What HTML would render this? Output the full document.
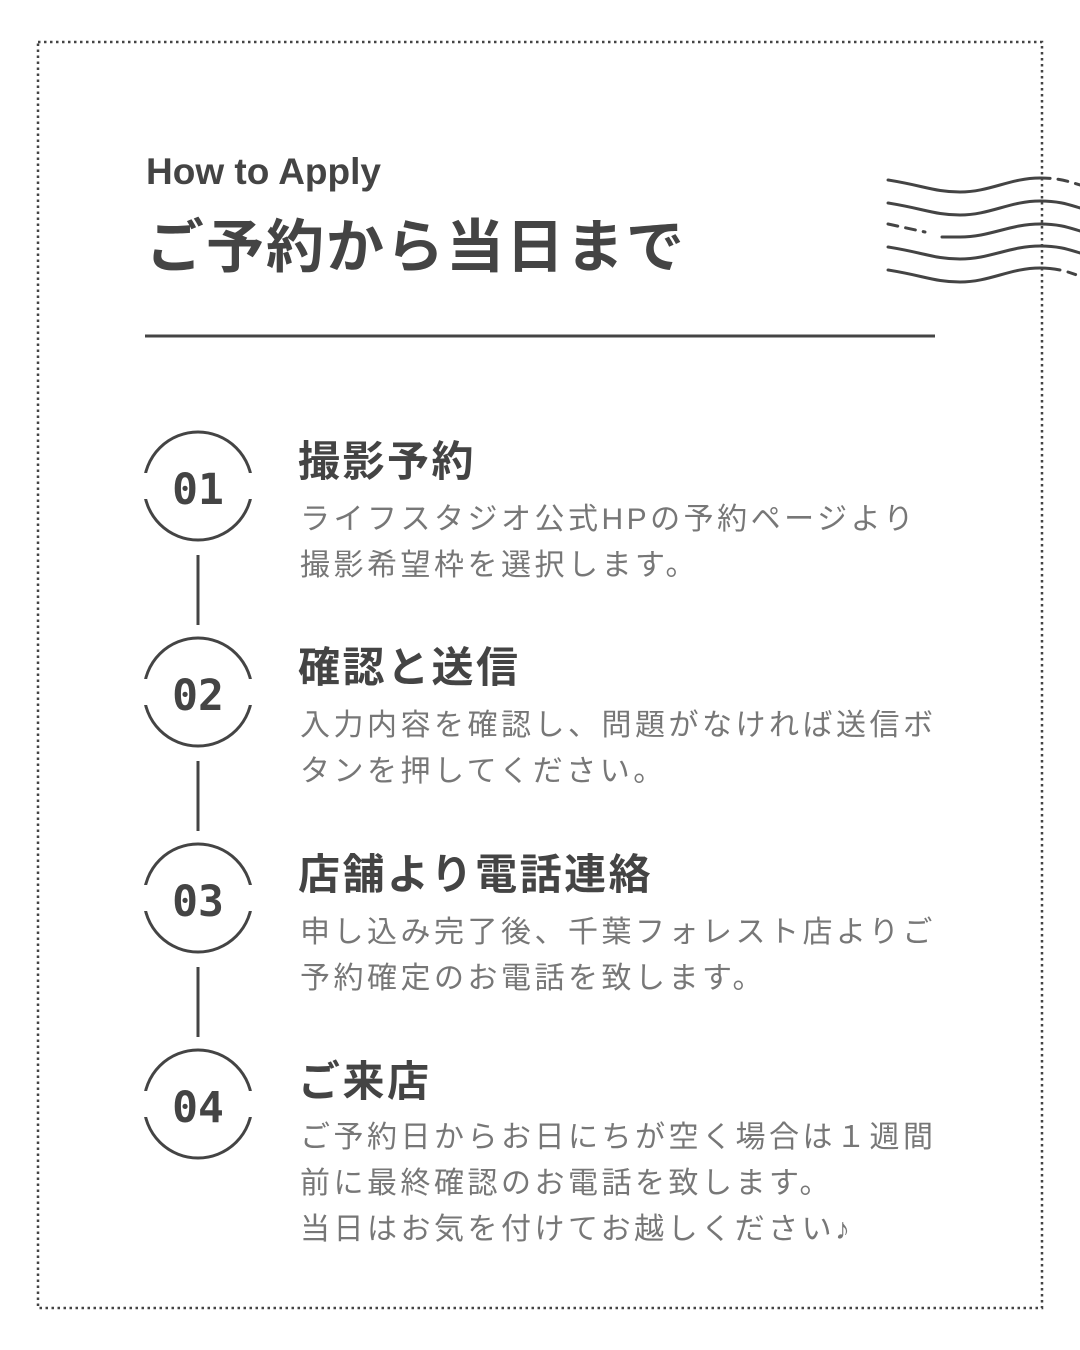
<!DOCTYPE html>
<html><head><meta charset="utf-8">
<style>
html,body{margin:0;padding:0;background:#fff;}
#c{position:relative;width:1080px;height:1350px;overflow:hidden;background:#fff;font-family:"Liberation Sans","Noto Sans CJK JP",sans-serif;}
.t{position:absolute;white-space:nowrap;}
.h{font-size:42px;font-weight:bold;color:#444;line-height:50px;letter-spacing:2.5px;}
.b{font-size:30px;color:#777;line-height:46px;letter-spacing:3.5px;}
.n{position:absolute;width:100px;text-align:center;font-family:"DejaVu Sans Mono","Liberation Mono",monospace;font-weight:bold;font-size:43px;color:#444;line-height:50px;}
</style></head><body><div id="c">
<svg width="1080" height="1350" style="position:absolute;left:0;top:0">
<g fill="none" stroke="#444" stroke-width="3" stroke-linecap="round">
<path d="M888,180 C925,186 935,192 960,192 C990,192 1010,178 1040,178"/>
<path d="M1040,178 C1060,178 1070,182 1080,185" stroke-dasharray="10 8"/>
<path d="M888,203 C925,209 935,215 960,215 C990,215 1010,201 1040,201 C1060,201 1070,205 1080,208"/>
<path d="M888,224 L925,232" stroke-dasharray="10 8"/>
<path d="M942,237 L960,237 C990,237 1010,224 1040,224 C1060,224 1070,228 1080,231"/>
<path d="M888,247 C925,253 935,259 960,259 C990,259 1010,246 1040,246 C1060,246 1070,250 1080,253"/>
<path d="M888,270 C925,276 935,282 960,282 C990,282 1010,268 1040,268 C1050,268 1055,269 1060,270"/>
<path d="M1068,272 L1080,276" stroke-dasharray="8 6"/>
</g>
<rect x="38" y="42" width="1004" height="1266" fill="none" stroke="#444" stroke-width="2.5" stroke-dasharray="2.5 3.5"/>
<line x1="145" y1="336" x2="935" y2="336" stroke="#444" stroke-width="3"/>
<g fill="none" stroke="#444" stroke-width="3">
<circle cx="198" cy="486" r="54"/><circle cx="198" cy="692" r="54"/><circle cx="198" cy="898" r="54"/><circle cx="198" cy="1104" r="54"/>
<line x1="198" y1="555" x2="198" y2="625"/><line x1="198" y1="761" x2="198" y2="831"/><line x1="198" y1="967" x2="198" y2="1037"/>
</g>
<g fill="#fff">
<rect x="138" y="473" width="14" height="26"/><rect x="244" y="473" width="14" height="26"/>
<rect x="138" y="679" width="14" height="26"/><rect x="244" y="679" width="14" height="26"/>
<rect x="138" y="885" width="14" height="26"/><rect x="244" y="885" width="14" height="26"/>
<rect x="138" y="1091" width="14" height="26"/><rect x="244" y="1091" width="14" height="26"/>
</g>
</svg>
<div class="t" style="left:146px;top:151px;font-size:37px;font-weight:bold;color:#444;line-height:42px;">How to Apply</div>
<div class="t" style="left:146px;top:215px;font-size:58px;font-weight:bold;color:#444;line-height:66px;letter-spacing:2px;">ご予約から当日まで</div>

<div class="n" style="left:148px;top:465px;">01</div>
<div class="n" style="left:148px;top:671px;">02</div>
<div class="n" style="left:148px;top:877px;">03</div>
<div class="n" style="left:148px;top:1083px;">04</div>

<div class="t h" style="left:298px;top:437px;">撮影予約</div>
<div class="t b" style="left:300px;top:497px;">ライフスタジオ公式HPの予約ページより<br>撮影希望枠を選択します。</div>

<div class="t h" style="left:298px;top:643px;">確認と送信</div>
<div class="t b" style="left:300px;top:703px;">入力内容を確認し、問題がなければ送信ボ<br>タンを押してください。</div>

<div class="t h" style="left:298px;top:850px;">店舗より電話連絡</div>
<div class="t b" style="left:300px;top:910px;">申し込み完了後、千葉フォレスト店よりご<br>予約確定のお電話を致します。</div>

<div class="t h" style="left:298px;top:1057px;">ご来店</div>
<div class="t b" style="left:300px;top:1115px;">ご予約日からお日にちが空く場合は１週間<br>前に最終確認のお電話を致します。<br>当日はお気を付けてお越しください♪</div>
</div></body></html>
